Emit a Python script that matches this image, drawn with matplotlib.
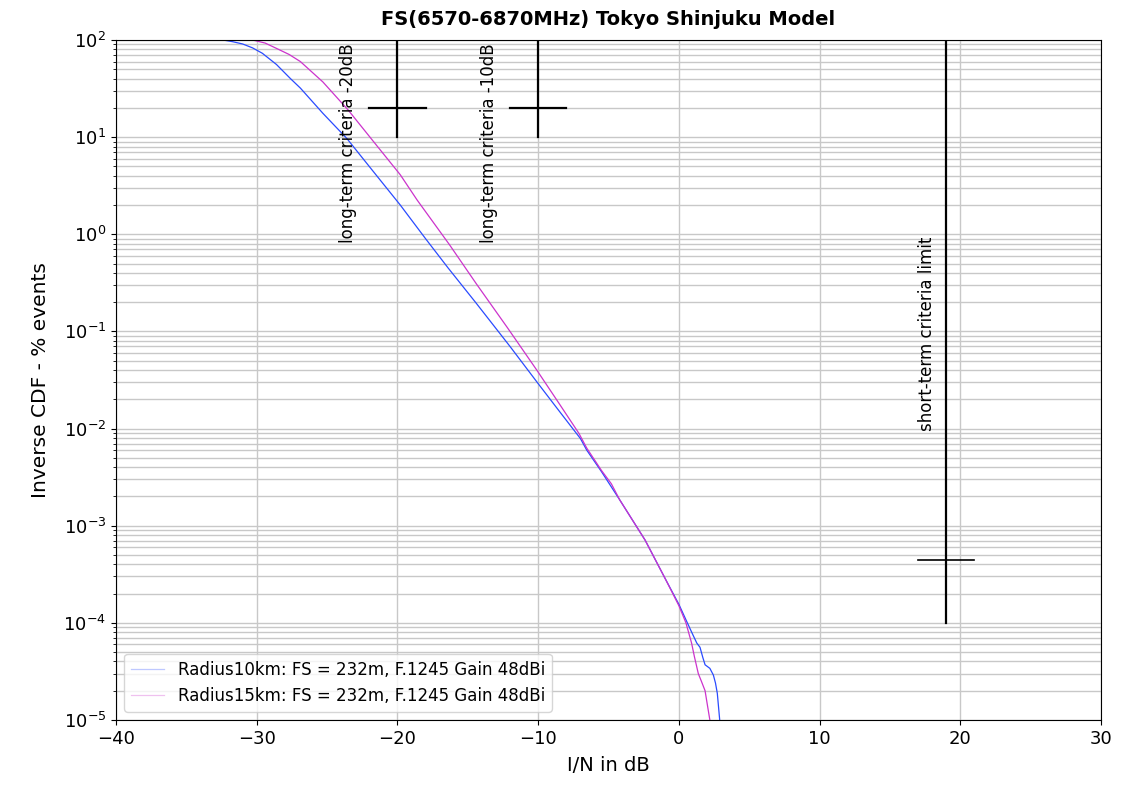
import numpy as np
import matplotlib
matplotlib.use("Agg")
import matplotlib.pyplot as plt

# I/N (dB) vs inverse CDF (% events)
r10_x = [-32.4, -31.7, -31.0, -30.3, -29.6, -28.6, -27.6, -26.9, -25.3, -23.6, -21.7,
         -19.8, -18.0, -16.4, -14.4, -12.0, -10.0, -8.5, -7.0, -6.55, -5.5, -4.2,
         -2.4, -1.0, 0.0, 0.6, 1.0, 1.27, 1.5, 1.7, 1.86, 2.2, 2.45, 2.6, 2.73, 2.9]
r10_y = [100, 96, 91, 83, 73, 56, 40, 32, 17.6, 9.7, 4.4,
         2.0, 0.9, 0.45, 0.195, 0.07, 0.029, 0.0151, 0.0079, 0.006, 0.0036, 0.00184,
         7.1e-4, 2.9e-4, 1.55e-4, 1.0e-4, 7.5e-5, 6.2e-5, 5.6e-5, 4.4e-5, 3.7e-5, 3.4e-5, 2.9e-5, 2.4e-5, 1.88e-5, 1e-5]

r15_x = [-30.3, -29.4, -28.6, -27.7, -26.9, -25.3, -23.5, -21.7, -19.8, -18.6, -16.3, -14.4,
         -12.2, -10.1, -8.5, -7.1, -6.55, -5.5, -4.8, -4.2, -2.4, -1.0, 0.0, 0.5,
         0.9, 1.1, 1.38, 1.6, 1.86, 2.0, 2.2]
r15_y = [100, 93, 82, 71, 60, 37, 19, 9.0, 4.1, 2.25, 0.78, 0.31,
         0.11, 0.040, 0.018, 0.0089, 0.0063, 0.0037, 0.0027, 0.00184, 7.1e-4, 2.9e-4, 1.5e-4, 1.0e-4,
         6.2e-5, 4.5e-5, 3.0e-5, 2.5e-5, 2.0e-5, 1.5e-5, 1e-5]

labels = ["Radius10km: FS = 232m, F.1245 Gain 48dBi",
          "Radius15km: FS = 232m, F.1245 Gain 48dBi"]

# criteria markers: x position, y of crosshair, annotation
long_crit = [(-20, 20, "long-term criteria -20dB"), (-10, 20, "long-term criteria -10dB")]
short_crit = (19, 4.4e-4, "short-term criteria limit")

fig = plt.figure(figsize=(11.33, 7.86), dpi=100)
ax = fig.add_axes([0.1024, 0.084, 0.8694, 0.8651])

ax.plot(r10_x, r10_y, color="#2a4bff", lw=0.9, label=labels[0])
ax.plot(r15_x, r15_y, color="#cc33cc", lw=0.9, label=labels[1])

for xc, yc, txt in long_crit:
    ax.plot([xc, xc], [10, 100], color="black", lw=1.6)
    ax.plot([xc - 2, xc + 2], [yc, yc], color="black", lw=1.6)
    ax.text(xc - 3.5, 92, txt, rotation=90, ha="center", va="top", fontsize=12)

xs, ys, txt = short_crit
ax.plot([xs, xs], [1e-4, 100], color="black", lw=1.6)
ax.plot([xs - 2, xs + 2], [ys, ys], color="black", lw=1.2)
ax.text(xs - 1.4, 0.95, txt, rotation=90, ha="center", va="top", fontsize=12)

ax.set_yscale("log")
ax.set_xlim(-40, 30)
ax.set_ylim(1e-5, 1e2)
ax.grid(True, which="both", color="#c8c8c8", lw=1.0)
ax.tick_params(labelsize=13)
ax.set_xlabel("I/N in dB", fontsize=14, labelpad=6)
ax.set_ylabel("Inverse CDF - % events", fontsize=14.5, labelpad=10)
ax.set_title("FS(6570-6870MHz) Tokyo Shinjuku Model", fontsize=14, fontweight="bold", pad=11)

leg = ax.legend(loc="lower left", fontsize=12)
for h in leg.legend_handles:
    h.set_alpha(0.3)

fig.savefig("out.png", dpi=100)
